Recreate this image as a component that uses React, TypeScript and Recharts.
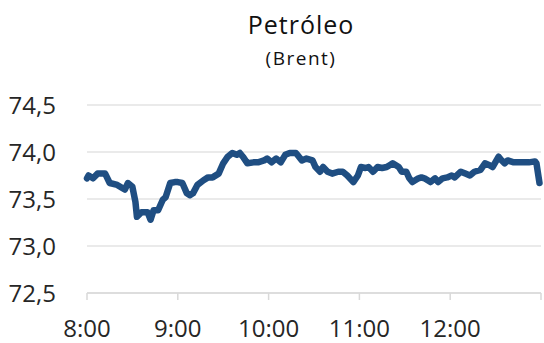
import { LineChart, Line, XAxis, YAxis, CartesianGrid } from "recharts";

// minutes after 8:00
const minutes = [
  0, 1, 4, 7, 12, 15, 20, 23, 25, 27, 30, 32, 33, 36, 40, 42, 44, 47, 50, 52,
  55, 58, 60, 63, 66, 68, 70, 73, 77, 80, 83, 87, 90, 93, 96, 99, 101, 103, 106,
  110, 113, 117, 119, 122, 125, 128, 131, 134, 138, 139, 142, 145, 149, 151, 154,
  156, 159, 162, 166, 169, 172, 176, 179, 181, 184, 186, 189, 192, 195, 198, 200,
  202, 206, 208, 211, 213, 215, 219, 221, 223, 227, 230, 232, 235, 238, 241, 243,
  247, 250, 253, 256, 260, 263, 266, 268, 272, 274, 276, 278, 282, 285, 288, 292,
  296, 297, 299,
];

const brent = [
  73.72, 73.75, 73.72, 73.77, 73.77, 73.67, 73.65, 73.62, 73.6, 73.67, 73.63,
  73.47, 73.31, 73.36, 73.36, 73.28, 73.38, 73.38, 73.49, 73.52, 73.67, 73.68,
  73.68, 73.67, 73.56, 73.54, 73.56, 73.65, 73.7, 73.73, 73.73, 73.77, 73.88,
  73.95, 73.99, 73.97, 73.99, 73.95, 73.88, 73.89, 73.89, 73.91, 73.93, 73.89,
  73.93, 73.89, 73.97, 73.99, 73.99, 73.97, 73.91, 73.93, 73.91, 73.84, 73.79,
  73.84, 73.79, 73.77, 73.79, 73.79, 73.75, 73.68, 73.75, 73.84, 73.83, 73.84,
  73.79, 73.84, 73.83, 73.84, 73.86, 73.88, 73.84, 73.79, 73.79, 73.72, 73.68,
  73.72, 73.73, 73.72, 73.68, 73.72, 73.68, 73.72, 73.73, 73.75, 73.73, 73.79,
  73.77, 73.75, 73.79, 73.81, 73.88, 73.86, 73.84, 73.95, 73.91, 73.88, 73.91,
  73.89, 73.89, 73.89, 73.89, 73.9, 73.88, 73.67,
];

const xTicks = [0, 60, 120, 180, 240, 300];
const xLabels = ["8:00", "9:00", "10:00", "11:00", "12:00", ""];
const yTicks = [72.5, 73, 73.5, 74, 74.5];

const data = minutes.map((m, i) => ({ t: m, v: brent[i] }));

const font = "'Open Sans', 'Noto Sans', sans-serif";

const App = () => {
  return (
    <div style={{ position: "absolute", left: 0, top: 0, width: 544, height: 343 }}>
      <svg width={544} height={80} style={{ position: "absolute", left: 0, top: 0 }}>
        <text
          x={301}
          y={34}
          textAnchor="middle"
          fontFamily={font}
          fontSize={25}
          letterSpacing={1}
          fill="#111"
        >
          Petróleo
        </text>
        <text
          x={301}
          y={65}
          textAnchor="middle"
          fontFamily={font}
          fontSize={19}
          letterSpacing={1.5}
          fill="#111"
        >
          (Brent)
        </text>
      </svg>
      <LineChart
        width={544}
        height={343}
        data={data}
        margin={{ top: 105, right: 3, left: 0, bottom: 0 }}
      >
        <CartesianGrid vertical={false} stroke="#e3e3e3" strokeWidth={1.5} />
        <XAxis
          dataKey="t"
          type="number"
          domain={[0, 300]}
          ticks={xTicks}
          tickFormatter={(v: number) => xLabels[xTicks.indexOf(v)] ?? ""}
          height={50}
          stroke="#d9d9d9"
          strokeWidth={1.5}
          tickSize={7}
          tickMargin={20}
          tick={{ fill: "#262626", fontSize: 24, fontFamily: font }}
          interval={0}
        />
        <YAxis
          domain={[72.5, 74.5]}
          ticks={yTicks}
          width={87}
          axisLine={false}
          tickLine={false}
          tickSize={0}
          tickMargin={31}
          tickFormatter={(v: number) => v.toFixed(1).replace(".", ",")}
          tick={{ fill: "#262626", fontSize: 24, fontFamily: font }}
          interval={0}
        />
        <Line
          type="linear"
          dataKey="v"
          stroke="#1f4e82"
          strokeWidth={6.5}
          strokeLinejoin="round"
          strokeLinecap="round"
          dot={false}
          isAnimationActive={false}
        />
      </LineChart>
    </div>
  );
};

export default App;
